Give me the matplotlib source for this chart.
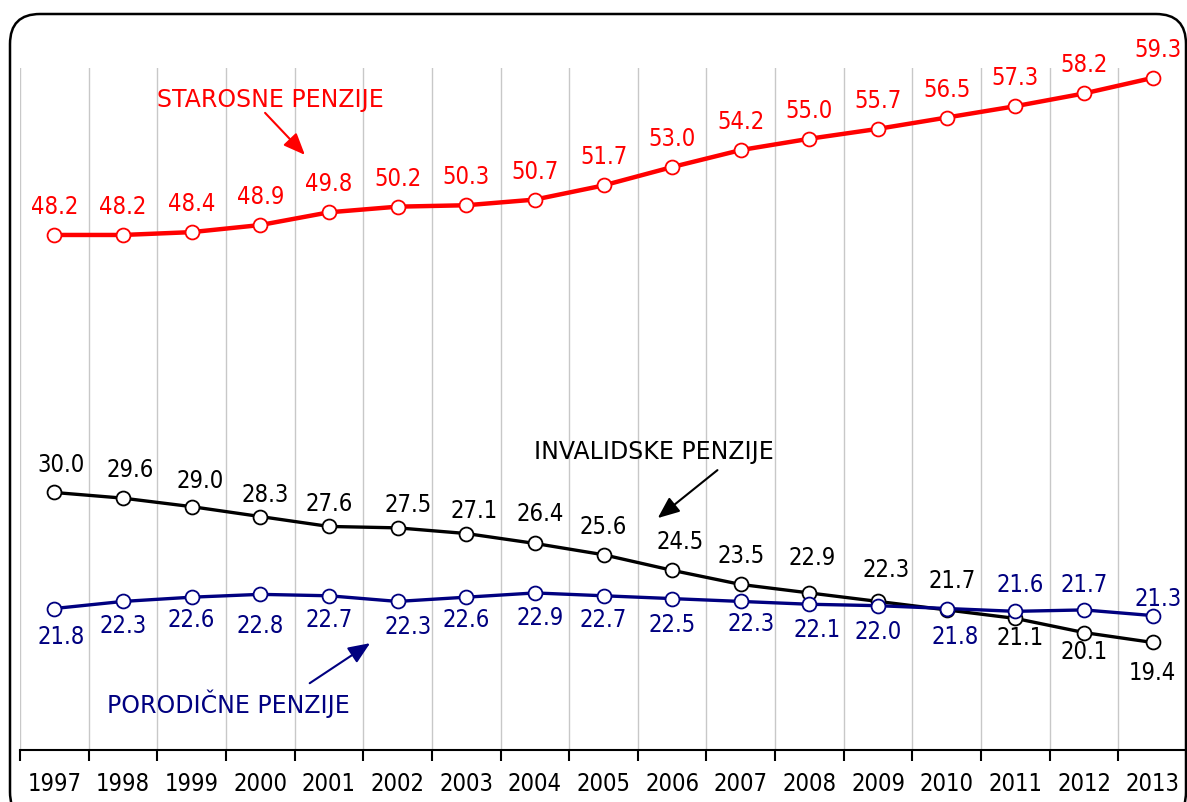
import matplotlib
matplotlib.use("Agg")
import matplotlib.pyplot as plt
import numpy as np
from matplotlib.patches import FancyBboxPatch

years = [str(y) for y in range(1997, 2014)]
starosne = [48.2, 48.2, 48.4, 48.9, 49.8, 50.2, 50.3, 50.7, 51.7, 53.0, 54.2, 55.0, 55.7, 56.5, 57.3, 58.2, 59.3]
invalidske = [30.0, 29.6, 29.0, 28.3, 27.6, 27.5, 27.1, 26.4, 25.6, 24.5, 23.5, 22.9, 22.3, 21.7, 21.1, 20.1, 19.4]
porodicne = [21.8, 22.3, 22.6, 22.8, 22.7, 22.3, 22.6, 22.9, 22.7, 22.5, 22.3, 22.1, 22.0, 21.8, 21.6, 21.7, 21.3]

# label offsets in pixels (dx, dy)
red_off = [(0, 28)] * 16 + [(5, 28)]
black_off = [(7, 27), (7, 28), (9, 26), (5, 22), (0, 22), (11, 23), (8, 23), (5, 29), (0, 28),
             (8, 28), (0, 28), (3, 35), (8, 31), (5, 29), (5, -20), (0, -19), (0, -31)]
navy_off = [(7, -28), (0, -25), (0, -23), (0, -32), (0, -24), (11, -26), (0, -23), (5, -25), (0, -24),
            (0, -26), (10, -23), (8, -26), (0, -26), (8, -28), (5, 26), (0, 25), (5, 17)]

RED = "#ff0000"
NAVY = "#000080"
FS = 17
plt.rcParams["font.family"] = ["DejaVu Sans"]
plt.rcParams["font.stretch"] = "condensed"

fig = plt.figure(figsize=(11.87, 8.02), dpi=100)
ax = fig.add_axes([20 / 1187, 52 / 802, 1 - 20 / 1187, 682 / 802])

x = np.arange(len(years))
series = [
    (starosne, RED, 3.2, red_off),
    (invalidske, "black", 2.4, black_off),
    (porodicne, NAVY, 2.4, navy_off),
]
for vals, col, lw, offs in series:
    ax.plot(x, vals, color=col, lw=lw, marker="o", ms=10, mfc="white", mec=col, mew=1.3,
            clip_on=False, zorder=3)
    for xi, v, (dx, dy) in zip(x, vals, offs):
        ax.annotate(f"{v:.1f}", (xi, v), xytext=(dx, dy), textcoords="offset pixels",
                    ha="center", va="center", fontsize=FS, color=col, annotation_clip=False)

ax.set_xlim(-0.5, 16.5)
ax.set_ylim(11.8, 60)

for s in ["left", "right", "top"]:
    ax.spines[s].set_visible(False)
ax.spines["bottom"].set_linewidth(1.5)
ax.set_yticks([])
ax.set_xticks(x)
ax.set_xticklabels(years, fontsize=FS)
ax.tick_params(axis="x", which="major", length=0, pad=16)
ax.set_xticks(np.arange(-0.5, 16.6, 1), minor=True)
ax.tick_params(axis="x", which="minor", length=8, width=1.5, direction="out")
ax.grid(axis="x", which="minor", color="#c8c8c8", lw=1)
ax.set_axisbelow(True)

arrow = dict(arrowstyle="-|>,head_length=0.6,head_width=0.25", lw=1.5, mutation_scale=22,
             shrinkA=0, shrinkB=0)
name_kw = dict(fontsize=FS, ha="center", va="center", fontstretch="normal")
ax.annotate("", xy=(3.65, 53.86), xytext=(3.07, 56.83), arrowprops=dict(arrow, color=RED))
ax.text(3.14, 57.75, "STAROSNE PENZIJE", color=RED, **name_kw)
ax.annotate("", xy=(8.79, 28.19), xytext=(9.66, 31.58), arrowprops=dict(arrow, color="black"))
ax.text(8.73, 32.85, "INVALIDSKE PENZIJE", color="black", **name_kw)
ax.annotate("", xy=(4.60, 19.35), xytext=(3.72, 16.52), arrowprops=dict(arrow, color=NAVY))
ax.text(2.53, 15.1, "PORODIČNE PENZIJE", color=NAVY, **name_kw)

# rounded frame in pixel coordinates
frame = FancyBboxPatch((10, -20), 1176, 808, boxstyle="round,pad=0,rounding_size=30",
                       transform=None, fill=False, ec="black", lw=1.8, zorder=10)
fig.patches.append(frame)

fig.savefig("out.png", dpi=100)
